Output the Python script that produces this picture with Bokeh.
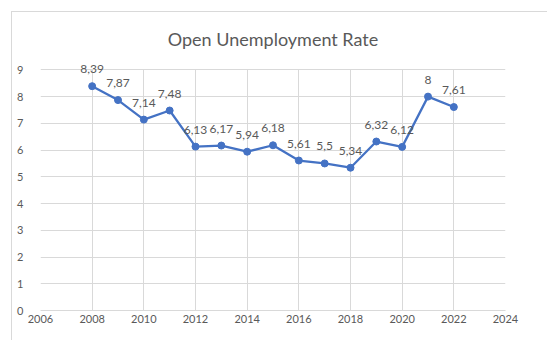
from bokeh.plotting import figure
from bokeh.models import ColumnDataSource, FixedTicker, Range1d, LabelSet
from bokeh.core.properties import value
from bokeh.embed import file_html
from bokeh.resources import INLINE

years = [2008, 2009, 2010, 2011, 2012, 2013, 2014, 2015, 2016, 2017, 2018, 2019, 2020, 2021, 2022]
rates = [8.39, 7.87, 7.14, 7.48, 6.13, 6.17, 5.94, 6.18, 5.61, 5.5, 5.34, 6.32, 6.12, 8.0, 7.61]
labels = ["8,39", "7,87", "7,14", "7,48", "6,13", "6,17", "5,94", "6,18", "5,61", "5,5", "5,34", "6,32", "6,12", "8", "7,61"]
x_ticks = [2006, 2008, 2010, 2012, 2014, 2016, 2018, 2020, 2022, 2024]
y_ticks = [0, 1, 2, 3, 4, 5, 6, 7, 8, 9]

FONT = "Lato"
GRAY = "#595959"
GRID = "#d9d9d9"
BLUE = "#4472C4"

src = ColumnDataSource(dict(x=years, y=rates, t=labels))

p = figure(width=536, height=329, output_backend="svg", toolbar_location=None,
           x_range=Range1d(2006, 2024), y_range=Range1d(0, 9.65),
           title="Open Unemployment Rate")
p.margin = (11, 0, 0, 11)
p.styles = {"border-left": "1px solid #d9d9d9", "border-top": "1px solid #d9d9d9"}
p.min_border_left = 28
p.min_border_right = 43
p.min_border_top = 40
p.min_border_bottom = 31

p.title.align = "center"
p.title.text_font = FONT
p.title.text_font_size = "18px"
p.title.text_font_style = "normal"
p.title.text_color = GRAY
p.title.standoff = 6

p.line("x", "y", source=src, line_color=BLUE, line_width=2.25)
p.scatter("x", "y", source=src, size=7, fill_color=BLUE, line_color=BLUE)

lbl = LabelSet(x="x", y="y", text="t", source=src, text_align="center",
               text_baseline="bottom", y_offset=13, text_font=value(FONT),
               text_font_size=value("12px"), text_color=GRAY)
p.add_layout(lbl)

p.xaxis.ticker = FixedTicker(ticks=x_ticks)
p.yaxis.ticker = FixedTicker(ticks=y_ticks)
for ax in (p.xaxis[0], p.yaxis[0]):
    ax.major_label_text_font = FONT
    ax.major_label_text_font_size = "11px"
    ax.major_label_text_color = GRAY
    ax.major_tick_line_color = None
    ax.minor_tick_line_color = None
p.xaxis.axis_line_color = GRID
p.yaxis.axis_line_color = None
p.xaxis.major_label_standoff = -2
p.yaxis.major_label_standoff = 11

p.xgrid.grid_line_color = GRID
p.ygrid.grid_line_color = GRID
p.xgrid.cross_bounds = (0, 9)
p.outline_line_color = None

open("out.html", "w").write(file_html(p, INLINE))
